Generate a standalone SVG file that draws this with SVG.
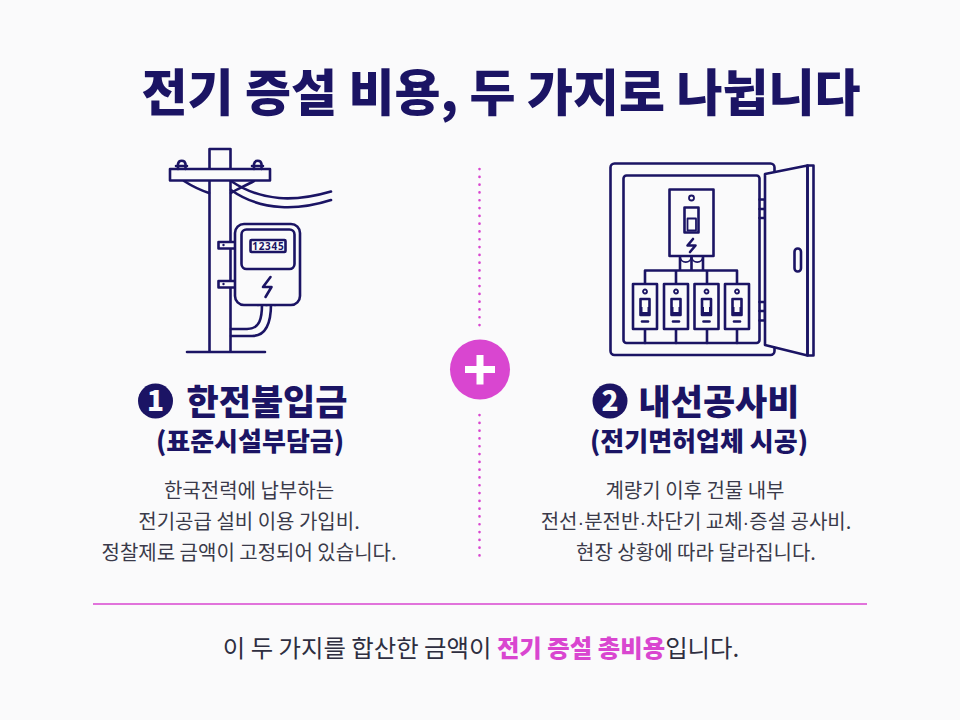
<svg xmlns="http://www.w3.org/2000/svg" width="960" height="720" viewBox="0 0 960 720">
<style>
text{font-family:"Noto Sans CJK KR","Noto Sans",sans-serif;fill:#1b1464}
.m{text-anchor:middle}
.h{font-size:35px;font-weight:900}
.s{font-size:26px;font-weight:900}
.b{font-size:20px;fill:#3a3a4a}
.d{font-family:"Liberation Sans",sans-serif}
.l{fill:none;stroke:#1b1464;stroke-width:2.600;stroke-linejoin:round;stroke-linecap:round}
.w{fill:#fafafb;stroke:#1b1464;stroke-width:2.600;stroke-linejoin:round}
.t{stroke-width:1.800}
</style>
<defs>
<g id="brk">
<rect class="w" x="-12" y="0" width="24" height="45"/>
<circle class="l t" cx="0" cy="7.500" r="2"/>
<rect class="l" x="-4.500" y="15" width="9" height="16"/>
<rect x="-4.500" y="23" width="9" height="8" fill="#1b1464"/>
<rect x="-2.500" y="22" width="5" height="6" fill="#fafafb"/>
<path class="l" d="M-3 37.500H3"/>
</g>
</defs>
<rect width="960" height="720" fill="#fafafb"/>
<text id="title" x="501" y="111" class="m" font-size="50" font-weight="900">전기 증설 비용, 두 가지로 나뉩니다</text>
<g id="connectors">
<path d="M479.500 169V326M479.500 415V557" fill="none" stroke="#d946d0" stroke-width="2.600" stroke-dasharray="0.100 7.700" stroke-linecap="round"/>
<path d="M93 604H867" stroke="#d946d0" stroke-width="1.500"/>
</g>
<g id="pole">
<path class="l" d="M187 352H265M209.500 352V149H230.500V352"/>
<path class="l" d="M184 181C195 188 203 191 209 193M254 181C245 186 237 189 231 193"/>
<path class="l" d="M231 181C262 202 295 202 331 191.500M231 190C262 212 300 210 331 200"/>
<rect class="w" x="170" y="169" width="100" height="11.500"/>
<path class="l" d="M178 169V164A3.800 3.800 0 0 1 185.500 164V169M254 169V164A3.800 3.800 0 0 1 261.500 164V169M176 166H187M252 166H263"/>
<path class="l" d="M231 329H247C260 329 262 318 262 304M231 336H252C267 336 271 322 271 304"/>
<path class="l" d="M258 305V302H266V305M267 305V302H275V305"/>
<rect class="w" x="218.500" y="242" width="17" height="6.500"/>
<rect class="w" x="218.500" y="281" width="17" height="6.500"/>
<circle cx="223.500" cy="245" r="1.200" fill="#1b1464"/>
<circle cx="223.500" cy="284" r="1.200" fill="#1b1464"/>
</g>
<g id="meter">
<rect class="w" x="235" y="224" width="65" height="81" rx="9"/>
<rect class="l" x="241.500" y="229.500" width="53" height="39.500" rx="5"/>
<rect class="l" x="250.500" y="240" width="35" height="12" rx="1"/>
<text x="268.300" y="249.500" class="m" font-size="10" font-weight="700" letter-spacing="0.700" style="font-family:'Noto Sans',sans-serif">12345</text>
<path class="l" d="M270.500 277L263 287H271.500L265.500 297"/>
</g>
<g id="panel">
<rect class="l" x="610.500" y="163.500" width="164" height="191.500" rx="4"/>
<rect class="l" x="623.500" y="175.500" width="136" height="167.500" rx="3"/>
<path class="l" d="M759.500 199.500H765M759.500 209H765M759.500 218H765M759.500 302H765M759.500 311H765M759.500 320.500H765M765 199V218M765 302V321"/>
<path class="w" d="M765 174L807.500 165.500V355.500L765 345Z"/>
<rect class="l" x="807.500" y="165.500" width="6" height="190"/>
<rect class="l" x="794.500" y="248.500" width="6.500" height="23" rx="3.200"/>
<path class="l" d="M645 343V270.500H737V343M676 270.500V343M707 270.500V343M680 270V256M691.500 270V256M703 270V256"/>
<path class="l t" d="M680 257A5.800 5.800 0 0 0 691.500 257A5.800 5.800 0 0 0 703 257"/>
<rect class="w" x="669.500" y="189.500" width="44" height="66.500"/>
<circle class="l t" cx="691.500" cy="198" r="2.500"/>
<rect class="l" x="684.500" y="207.500" width="14" height="25"/>
<rect class="l t" x="687.500" y="218.500" width="8.500" height="12"/>
<path class="l" d="M693 239L687.500 245.500H695.500L690 252"/>
<use href="#brk" x="645" y="284"/>
<use href="#brk" x="676" y="284"/>
<use href="#brk" x="706.500" y="284"/>
<use href="#brk" x="737" y="284"/>
</g>
<g id="plus">
<circle cx="480" cy="369.500" r="30" fill="#d946d0"/>
<path d="M465 369.500H495M480 355V384.500" stroke="#fff" stroke-width="7" fill="none"/>
</g>
<g id="left">
<circle cx="155.500" cy="401" r="17.500" fill="#1b1464"/>
<text x="155.500" y="411" class="m" font-size="28" font-weight="900" style="fill:#fafafb">1</text>
<text x="267" y="415" class="m h">한전불입금</text>
<text x="250" y="451" class="m s">(표준시설부담금)</text>
<text x="249" y="498" class="m b">한국전력에 납부하는</text>
<text x="249" y="529" class="m b">전기공급 설비 이용 가입비.</text>
<text x="249" y="560" class="m b">정찰제로 금액이 고정되어 있습니다.</text>
</g>
<g id="right">
<circle cx="610" cy="401" r="17.500" fill="#1b1464"/>
<text x="610" y="411" class="m" font-size="28" font-weight="900" style="fill:#fafafb">2</text>
<text x="719" y="415" class="m h">내선공사비</text>
<text x="699" y="451" class="m s">(전기면허업체 시공)</text>
<text x="695" y="498" class="m b">계량기 이후 건물 내부</text>
<text x="696" y="529" class="m b">전선<tspan class="d">·</tspan>분전반<tspan class="d">·</tspan>차단기 교체<tspan class="d">·</tspan>증설 공사비.</text>
<text x="696" y="560" class="m b">현장 상황에 따라 달라집니다.</text>
</g>
<text id="foot" x="481" y="657" class="m" font-size="24.400" style="fill:#2e2e40">이 두 가지를 합산한 금액이 <tspan font-weight="900" style="fill:#d946d0">전기 증설 총비용</tspan>입니다.</text>
</svg>
